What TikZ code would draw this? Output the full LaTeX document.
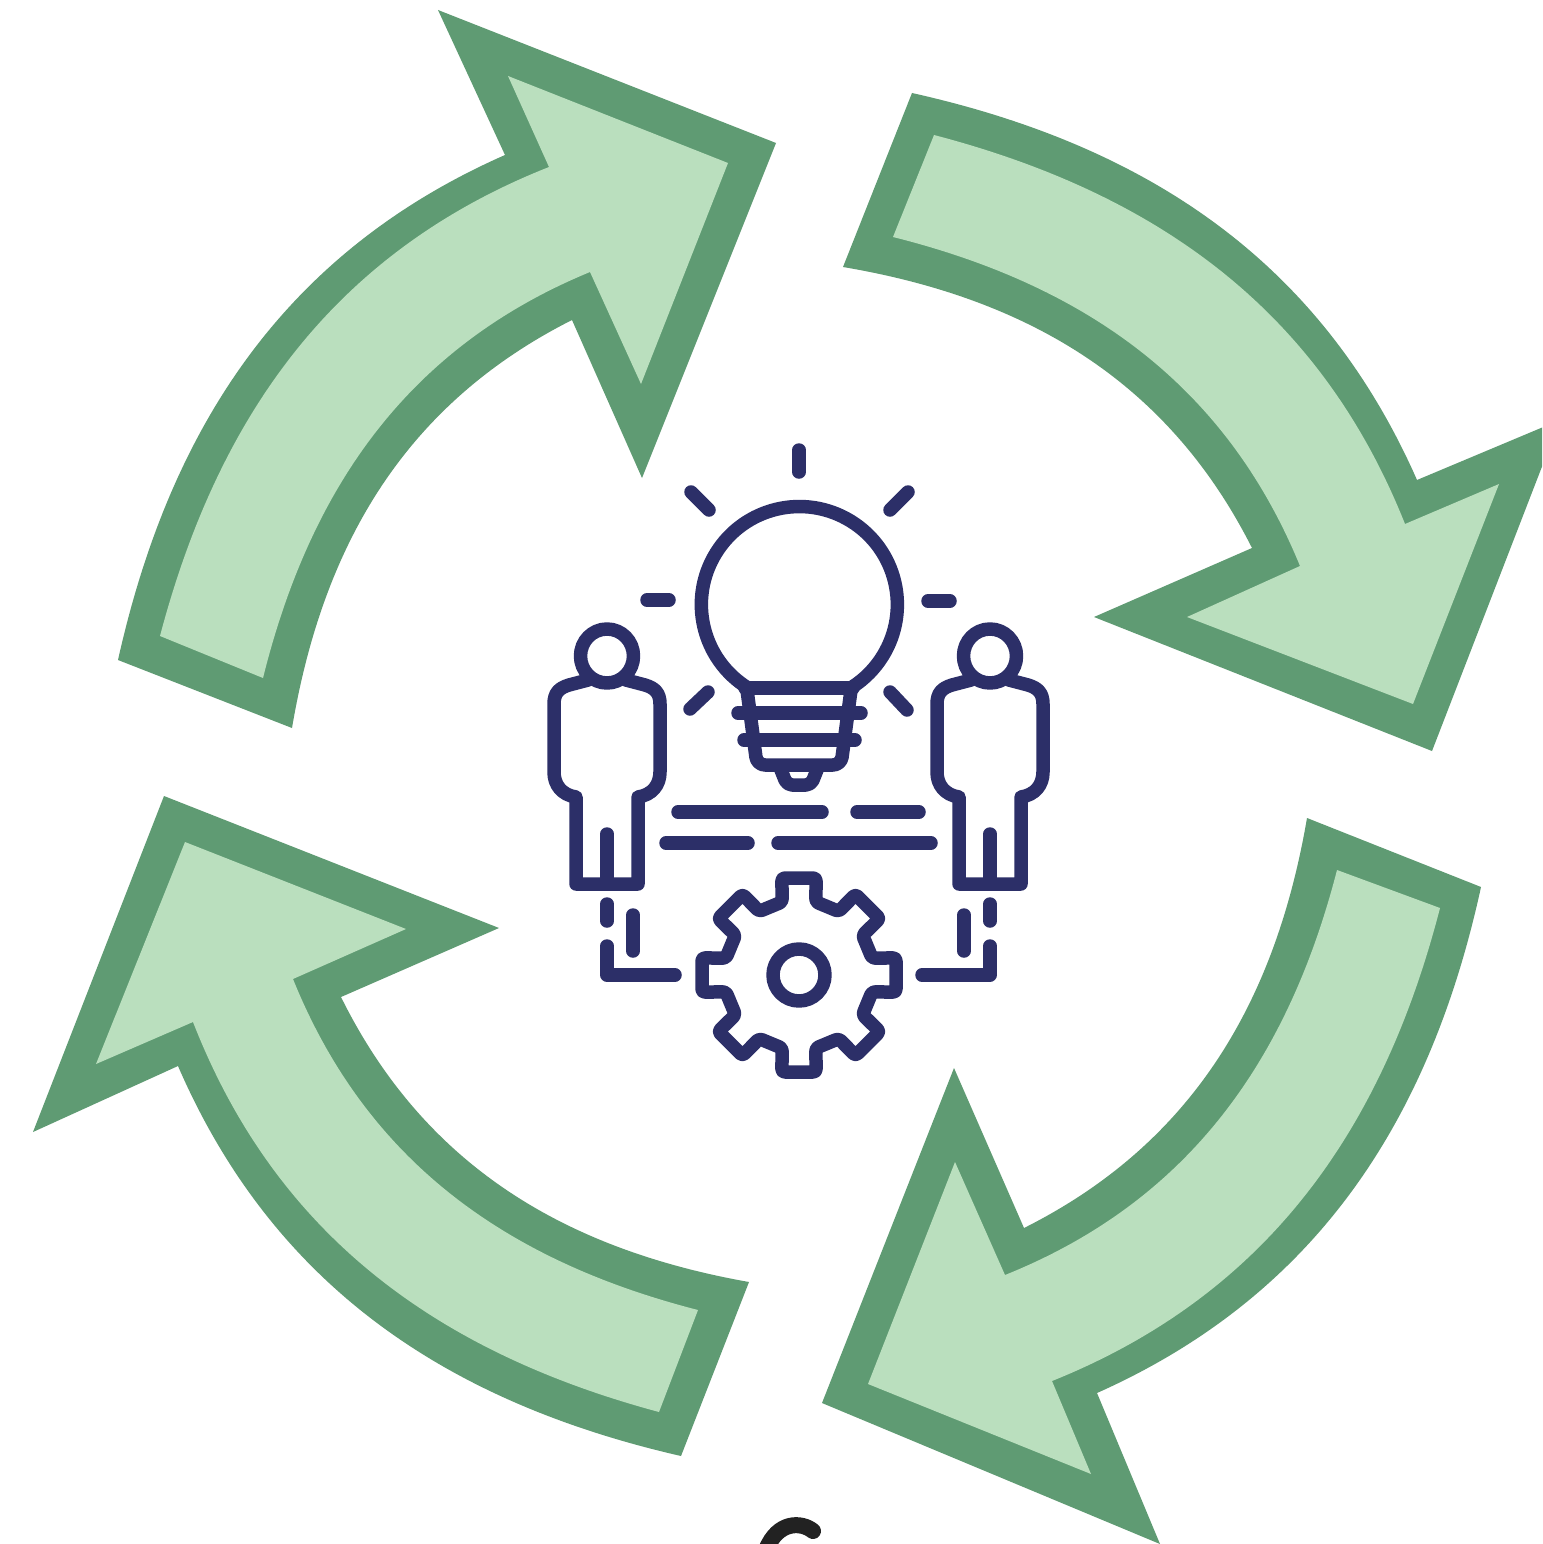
\documentclass[tikz,border=0pt]{standalone}
\definecolor{arrowdark}{HTML}{5F9B73}
\definecolor{arrowlight}{HTML}{BADFBE}
\definecolor{navy}{HTML}{2C2F68}
\definecolor{glyph}{HTML}{222222}
\tikzset{
  outerarrow/.style={fill=arrowdark,draw=none},
  innerarrow/.style={fill=arrowlight,draw=none},
  iconline/.style={draw=navy,line width=13.5pt,line cap=round,line join=round},
}
% curved shaft edge, from tail to head
\def\shaftfwd(#1,#2)(#3,#4){ .. controls ({#1+.345*(#3-#1)+.16*(#4-#2)},{#2+.345*(#4-#2)-.16*(#3-#1)}) and ({#1+.672*(#3-#1)+.18*(#4-#2)},{#2+.672*(#4-#2)-.18*(#3-#1)}) .. (#3,#4)}
% the same curve, from head back to tail
\def\shaftback(#1,#2)(#3,#4){ .. controls ({#1+.672*(#3-#1)+.18*(#4-#2)},{#2+.672*(#4-#2)-.18*(#3-#1)}) and ({#1+.345*(#3-#1)+.16*(#4-#2)},{#2+.345*(#4-#2)-.16*(#3-#1)}) .. (#1,#2)}
\begin{document}
\begin{tikzpicture}[x=1pt,y=1pt,yscale=-1]
\clip (0,0) rectangle (1542,1544);
\fill[white] (0,0) rectangle (1542,1544);
% top-left arrow
\path[outerarrow] (118,660) \shaftfwd(118,660)(505,155) -- (438,10) -- (776,143) -- (642,478) -- (572,320) \shaftback(292,728)(572,320) -- cycle;
\path[innerarrow] (160,636) \shaftfwd(160,636)(549,167) -- (508,76) -- (728,163) -- (641,384) -- (590,272) \shaftback(263,678)(590,272) -- cycle;
% top-right arrow
\path[outerarrow] (912,93) \shaftfwd(912,93)(1417,480) -- (1560,420) -- (1432,751) -- (1094,617) -- (1252,548) \shaftback(843,267)(1252,548) -- cycle;
\path[innerarrow] (934,135) \shaftfwd(934,135)(1405,524) -- (1499,484) -- (1413,704) -- (1187,617) -- (1300,566) \shaftback(893,237)(1300,566) -- cycle;
% bottom-right arrow
\path[outerarrow] (1481,887) \shaftfwd(1481,887)(1097,1393) -- (1160,1544) -- (822,1403) -- (954,1068) -- (1024,1228) \shaftback(1307,818)(1024,1228) -- cycle;
\path[innerarrow] (1440,908) \shaftfwd(1440,908)(1052,1381) -- (1091,1474) -- (868,1384) -- (955,1162) -- (1005,1275) \shaftback(1337,870)(1005,1275) -- cycle;
% bottom-left arrow
\path[outerarrow] (681,1456) \shaftfwd(681,1456)(178,1066) -- (33,1132) -- (164,796) -- (499,928) -- (341,997) \shaftback(749,1282)(341,997) -- cycle;
\path[innerarrow] (659,1412) \shaftfwd(659,1412)(193,1022) -- (96,1064) -- (185,842) -- (406,929) -- (293,979) \shaftback(698,1310)(293,979) -- cycle;
% bulb
\draw[iconline] (748,688) arc[start angle=121.6,end angle=417,radius=98];
\draw[iconline] (745,688) -- (853,688);
\draw[iconline,rounded corners=8] (747,690) -- (757,765) -- (841,765) -- (851,690);
\draw[iconline] (738,713) -- (861,713);
\draw[iconline] (744,740) -- (855,740);
\draw[iconline,rounded corners=5] (781,770) -- (787,785) -- (811,785) -- (817,770);
% rays
\draw[iconline] (799,450) -- (799,472);
\draw[iconline] (691,492) -- (709,510);
\draw[iconline] (908,492) -- (890,510);
\draw[iconline] (647,600) -- (669,600);
\draw[iconline] (928,601) -- (950,601);
\draw[iconline] (708,692) -- (690,709);
\draw[iconline] (890,692) -- (907,710);
% people
\foreach \dx in {0,383}{
\begin{scope}[xshift=\dx pt]
\draw[iconline] (607,656) ellipse[x radius=26.5,y radius=27];
\draw[iconline] (626,680) -- (645,685) .. controls (655,688) and (660,693) .. (660,704) -- (660,772) .. controls (660,785) and (652,795) .. (638,797) -- (638,884) -- (576,884) -- (576,797) .. controls (562,795) and (554,785) .. (554,772) -- (554,704) .. controls (554,693) and (559,688) .. (569,685) -- (588,680);
\draw[iconline] (607,834) -- (607,884);
\draw[iconline] (607,904) -- (607,921);
\end{scope}}
% text bars
\draw[iconline] (678,812) -- (822,812);
\draw[iconline] (857,812) -- (919,812);
\draw[iconline] (666,843) -- (748,843);
\draw[iconline] (778,843) -- (931,843);
% links to the gear
\draw[iconline] (633,915) -- (633,951);
\draw[iconline] (607,946) -- (607,975) -- (675,975);
\draw[iconline] (964,915) -- (964,951);
\draw[iconline] (990,946) -- (990,975) -- (922,975);
% gear
\begin{scope}[shift={(799,975)}]
\draw[iconline,rounded corners=3] (-13:75)
  \foreach \a in {0,45,...,270}{ -- (\a-10:98.5) -- (\a+10:98.5) -- (\a+13:75) -- (\a+32:75) }
  -- (305:98.5) -- (325:98.5) -- (328:75) -- cycle;
\draw[iconline] (0,0) circle[radius=26];
\end{scope}
% fragment of a glyph cut off by the lower edge
\draw[draw=glyph,line width=16pt,line cap=round] (813,1531) .. controls (802,1522) and (778,1520) .. (766,1550);
\end{tikzpicture}
\end{document}
